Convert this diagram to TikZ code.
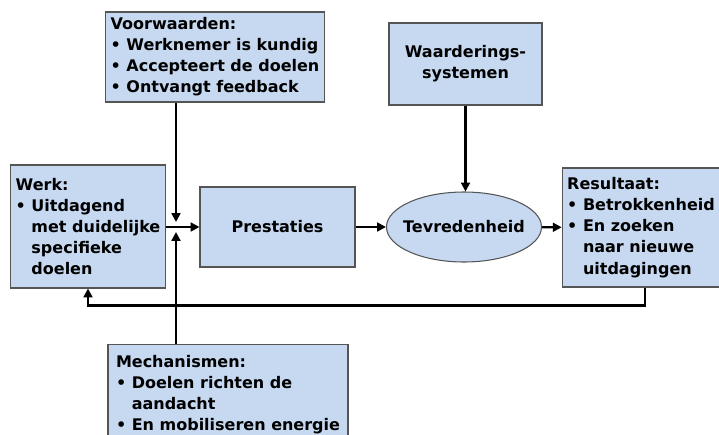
\documentclass[tikz,border=0pt]{standalone}
\usepackage{fontspec}
\setmainfont{DejaVu Sans}
\usepackage{xcolor}
\definecolor{vakblauw}{RGB}{198,217,241}
\definecolor{randgrijs}{RGB}{85,85,85}
\usetikzlibrary{
    arrows.meta,
    positioning,
    shapes.geometric
}
\newcommand{\insp}{\hphantom{•~}}

\begin{document}
\begin{tikzpicture}[
    vak/.style={draw=randgrijs, fill=vakblauw, line width=0.6pt, inner ysep=0pt, inner xsep=0.1cm,
        font=\bfseries\fontsize{9.1}{12}\selectfont},
    pijl/.style={line width=1.2pt, -{Triangle[length=5pt,width=5pt]}}
]
    \useasboundingbox (0,0) rectangle (14.38,8.68);

    % Vakken met voorwaarden en waarderingen bovenaan
    \node[vak, align=left, minimum width=4.28cm, minimum height=1.8cm] (voorw) at (4.30,7.54)
        {Voorwaarden:\\• Werknemer is kundig\\• Accepteert de doelen\\• Ontvangt feedback};
    \node[vak, align=center, minimum width=3.06cm, minimum height=1.64cm] (waard) at (9.31,7.40)
        {Waarderings-\\systemen};

    % Middelste rij
    \node[vak, align=left, minimum width=3.04cm, minimum height=2.46cm] (werk) at (1.76,4.15)
        {Werk:\\• Uitdagend\\\insp met duidelijke\\\insp specifieke\\\insp doelen};
    \node[vak, align=center, minimum width=3.1cm, minimum height=1.6cm] (prest) at (5.55,4.14)
        {Prestaties};
    \node[vak, ellipse, inner xsep=-0.12cm, inner ysep=0pt, minimum width=3.04cm, minimum height=1.4cm] (tevr) at (9.28,4.14)
        {Tevredenheid};
    \node[vak, align=left, minimum width=3.04cm, minimum height=2.38cm] (result) at (12.82,4.13)
        {Resultaat:\\• Betrokkenheid\\• En zoeken\\\insp naar nieuwe\\\insp uitdagingen};

    % Mechanismen onderaan (loopt onder de rand door)
    \node[vak, align=left, minimum width=4.8cm, minimum height=2.0cm, anchor=north] (mech) at (4.56,1.8)
        {Mechanismen:\\• Doelen richten de\\\insp aandacht\\• En mobiliseren energie};

    % Pijlen
    \coordinate (kruis) at (3.52,4.14);
    \draw[pijl] (voorw.south -| kruis) -- ([yshift=0.1cm]kruis);
    \draw[pijl] (mech.north -| kruis) -- ([yshift=-0.1cm]kruis);
    \draw[pijl] (werk.east |- prest) -- (prest);
    \draw[pijl] (prest) -- (tevr);
    \draw[pijl] (tevr) -- (result);
    \draw[pijl] (waard.south) -- (waard.south |- tevr.north);
    \draw[pijl] ([xshift=0.08cm]result.south) -- ++(0,-0.36) -| (werk.south);
\end{tikzpicture}
\end{document}
